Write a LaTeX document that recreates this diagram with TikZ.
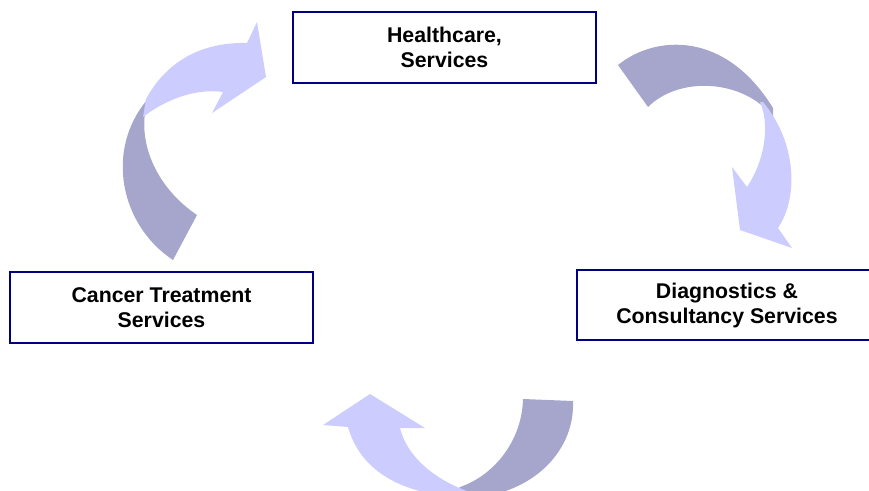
\documentclass[tikz,border=0pt]{standalone}
\usepackage{fontspec}
\setmainfont{Liberation Sans}
\definecolor{azulmarco}{RGB}{0,0,128}
\definecolor{flechaoscura}{RGB}{166,166,204}
\definecolor{flechaclara}{RGB}{204,204,255}

\begin{document}
\begin{tikzpicture}[x=1pt, y=-1pt,
    caja/.style={draw=azulmarco, line width=2.5pt, fill=white, align=center,
        font=\fontsize{21.3}{25}\selectfont\bfseries,
        minimum width=303pt, minimum height=71pt, inner sep=0pt}]
    \useasboundingbox (0,0) rectangle (869,490);

    % Flecha izquierda: de tratamiento a servicios
    \fill[flechaoscura] (173,260) .. controls (120,225) and (105,150) .. (147,100)
        -- (145,113) .. controls (140,150) and (160,190) .. (197,215) -- cycle;
    \fill[flechaclara] (146,99) .. controls (170,55) and (210,42) .. (247,43)
        -- (257,22) -- (266,77) -- (212,113) -- (223,92)
        .. controls (195,88) and (165,100) .. (143,117) -- cycle;

    % Flecha derecha: de servicios a diagnóstico
    \fill[flechaoscura] (618,65) .. controls (655,35) and (725,30) .. (773,108)
        -- (773,117) .. controls (745,80) and (680,75) .. (648,107) -- cycle;
    \fill[flechaclara] (763,102) .. controls (795,140) and (800,195) .. (778,228)
        -- (792,248) -- (740,230) -- (732,167) -- (747,187)
        .. controls (765,160) and (770,125) .. (760,102) -- cycle;

    % Flecha inferior: de diagnóstico a tratamiento
    \fill[flechaoscura] (523,399) -- (573,401) .. controls (575,450) and (535,490) .. (480,497)
        -- (455,492) -- (460,487) .. controls (495,475) and (522,440) .. (523,399) -- cycle;
    \fill[flechaclara] (450,496) .. controls (400,492) and (360,470) .. (348,427)
        -- (323,425) -- (370,394) -- (425,428) -- (400,428)
        .. controls (408,460) and (440,482) .. (470,492) -- cycle;

    % Cajas
    \node[caja] (salud) at (444.5,47.5) {Healthcare,\\Services};
    \node[caja] (cancer) at (161.5,307.5) {Cancer Treatment\\Services};
    \node[caja, minimum width=300pt, minimum height=70pt] (diagnostico) at (727,305)
        {Diagnostics \&\\Consultancy Services};
\end{tikzpicture}
\end{document}
